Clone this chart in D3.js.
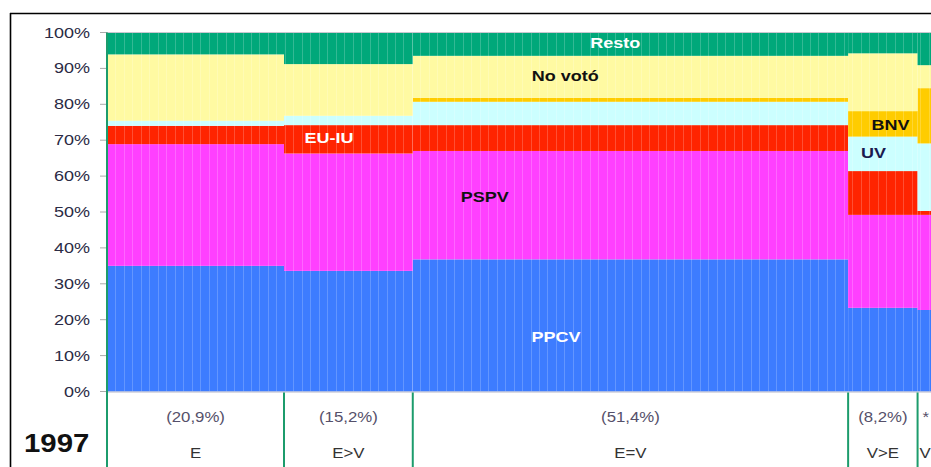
<!DOCTYPE html>
<html>
<head>
<meta charset="utf-8">
<script src="https://cdn.jsdelivr.net/npm/d3@7"></script>
<style>
  html, body { margin: 0; padding: 0; background: #fff; overflow: hidden; }
  svg { display: block; font-family: "Liberation Sans", Arial, sans-serif; }
</style>
</head>
<body>
<script>
 ///////////////////////////////////////////////////////
 // data

 var columns = ["E", "E>V", "E=V", "V>E", "V"];
 var shares = [20.9, 15.2, 51.4, 8.2, 4.3];
 var shareLabels = ["(20,9%)", "(15,2%)", "(51,4%)", "(8,2%)", "*"];
 var series = ["PPCV", "PSPV", "EU-IU", "UV", "BNV", "No votó", "Resto"];
 var ppcv   = [35.0, 33.6, 36.8, 23.3, 22.7];
 var pspv   = [33.9, 32.7, 30.2, 25.9, 26.5];
 var euiu   = [5.1, 7.9, 7.2, 12.2, 1.1];
 var uv     = [1.4, 2.6, 6.5, 9.6, 18.8];
 var bnv    = [0.0, 0.0, 1.1, 7.1, 15.4];
 var novoto = [18.5, 14.4, 11.7, 16.1, 6.4];
 var resto  = [6.1, 8.8, 6.5, 5.8, 9.1];
 var colors = ["#3d7cff", "#ff40ff", "#ff2400", "#ccffff", "#ffcc00", "#fffaa2", "#00a87a"];
 var yTicks = [0, 10, 20, 30, 40, 50, 60, 70, 80, 90, 100];
 var year = "1997";

 // series labels drawn inside the chart (x and y in chart percent)
 var labelText  = ["Resto", "No votó", "EU-IU", "PSPV", "PPCV", "BNV", "UV"];
 var labelX     = [60.0, 54.1, 26.2, 44.6, 53.0, 92.5, 90.5];
 var labelY     = [97.1, 87.9, 70.6, 54.2, 15.2, 74.2, 66.4];
 var labelColor = ["#fff", "#111", "#fff", "#111", "#fff", "#111", "#1a1a50"];

 ///////////////////////////////////////////////////////
 // margins

 var w = 960;
 var h = 467;
 var svg = d3.select("body").append("svg")
   .attr("width", w)
   .attr("height", h);

 var x = d3.scaleLinear().domain([0, 100]).range([107, 954]);
 var y = d3.scaleLinear().domain([0, 100]).range([391.5, 32.5]);
 var colorScale = d3.scaleOrdinal().domain(series).range(colors);

 // text in the reference is stretched horizontally
 function stretch(sel, k) {
   sel.attr("transform", function() {
       var t = d3.select(this);
       return "translate(" + t.attr("x") + "," + t.attr("y") + ") scale(" + (k || 1.2) + ",1)";
     })
     .attr("x", 0)
     .attr("y", 0);
 }

 ///////////////////////////////////////////////////////
 // table + stack

 var offsets = [0];
 shares.forEach(function(s, i) { offsets.push(offsets[i] + s); });

 var table = columns.map(function(c, i) {
   return {
     col: c, i: i,
     "PPCV": ppcv[i], "PSPV": pspv[i], "EU-IU": euiu[i], "UV": uv[i],
     "BNV": bnv[i], "No votó": novoto[i], "Resto": resto[i]
   };
 });
 var stacked = d3.stack().keys(series)(table);

 ///////////////////////////////////////////////////////
 // frame

 svg.append("line")
   .attr("x1", 10).attr("x2", w).attr("y1", 13.5).attr("y2", 13.5)
   .attr("stroke", "#000").attr("stroke-width", 1.6);
 svg.append("line")
   .attr("x1", 10.5).attr("x2", 10.5).attr("y1", 13).attr("y2", h)
   .attr("stroke", "#000").attr("stroke-width", 1.6);

 ///////////////////////////////////////////////////////
 // bars

 var layers = svg.selectAll(".layer")
   .data(stacked)
   .enter().append("g")
   .attr("class", "layer")
   .style("fill", function(d) { return colorScale(d.key); });

 layers.selectAll("rect")
   .data(function(d) { return d; })
   .enter().append("rect")
   .attr("x", function(d) { return x(offsets[d.data.i]); })
   .attr("width", function(d) { return x(offsets[d.data.i + 1]) - x(offsets[d.data.i]); })
   .attr("y", function(d) { return y(d[1]); })
   .attr("height", function(d) { return y(d[0]) - y(d[1]); });

 // thin sub-bar lines, one per percent
 svg.append("g").selectAll("line")
   .data(d3.range(1, 100))
   .enter().append("line")
   .attr("x1", function(d) { return Math.round(x(d)) + 0.5; })
   .attr("x2", function(d) { return Math.round(x(d)) + 0.5; })
   .attr("y1", y(100))
   .attr("y2", y(0))
   .attr("stroke", "#fff")
   .attr("stroke-opacity", 0.2);

 // top + base line
 svg.append("line")
   .attr("x1", x(0)).attr("x2", w).attr("y1", y(100)).attr("y2", y(100))
   .attr("stroke", "#c8c8d0").attr("stroke-width", 1);
 svg.append("line")
   .attr("x1", x(0)).attr("x2", w).attr("y1", y(0) + 0.5).attr("y2", y(0) + 0.5)
   .attr("stroke", "#b8b8c8").attr("stroke-width", 1);

 ///////////////////////////////////////////////////////
 // y axis

 var yAxis = svg.append("g");
 yAxis.selectAll("line")
   .data(yTicks)
   .enter().append("line")
   .attr("x1", x(0) - 7).attr("x2", x(0))
   .attr("y1", function(d) { return y(d); })
   .attr("y2", function(d) { return y(d); })
   .attr("stroke", "#aaa");
 yAxis.selectAll("text")
   .data(yTicks)
   .enter().append("text")
   .attr("x", 90)
   .attr("y", function(d) { return y(d) + 5; })
   .attr("text-anchor", "end")
   .style("font-size", "15px")
   .style("fill", "#2b2b45")
   .text(function(d) { return d + "%"; })
   .call(stretch);

 // green left edge + column boundaries below
 svg.append("line")
   .attr("x1", x(0)).attr("x2", x(0)).attr("y1", y(100)).attr("y2", h)
   .attr("stroke", "#1c9c6c").attr("stroke-width", 2);
 svg.append("g").selectAll("line")
   .data(offsets.slice(1))
   .enter().append("line")
   .attr("x1", function(d) { return x(d); })
   .attr("x2", function(d) { return x(d); })
   .attr("y1", y(0) + 1)
   .attr("y2", h)
   .attr("stroke", "#1c9c6c")
   .attr("stroke-width", 2);

 ///////////////////////////////////////////////////////
 // column labels

 var last = columns.length - 1;
 function colX(i) {
   if (i === last) return x(offsets[i]) + 5;
   return (x(offsets[i]) + x(offsets[i + 1])) / 2;
 }

 svg.append("g").selectAll("text")
   .data(shareLabels)
   .enter().append("text")
   .attr("x", function(d, i) { return colX(i); })
   .attr("y", 422)
   .attr("text-anchor", function(d, i) { return i === last ? "start" : "middle"; })
   .style("font-size", "14px")
   .style("fill", "#55506a")
   .text(function(d) { return d; })
   .call(stretch);

 svg.append("g").selectAll("text")
   .data(columns)
   .enter().append("text")
   .attr("x", function(d, i) { return i === last ? x(offsets[i]) + 2 : colX(i); })
   .attr("y", 458)
   .attr("text-anchor", function(d, i) { return i === last ? "start" : "middle"; })
   .style("font-size", "14px")
   .style("fill", "#333")
   .text(function(d) { return d; })
   .call(stretch);

 svg.append("text")
   .attr("x", 24)
   .attr("y", 452)
   .style("font-size", "26px")
   .style("font-weight", "bold")
   .style("fill", "#111")
   .text(year)
   .call(stretch, 1.13);

 ///////////////////////////////////////////////////////
 // series labels

 svg.append("g").selectAll("text")
   .data(labelText)
   .enter().append("text")
   .attr("x", function(d, i) { return x(labelX[i]); })
   .attr("y", function(d, i) { return y(labelY[i]) + 5; })
   .attr("text-anchor", "middle")
   .style("font-size", "15px")
   .style("font-weight", "bold")
   .style("fill", function(d, i) { return labelColor[i]; })
   .text(function(d) { return d; })
   .call(stretch);
</script>
</body>
</html>
